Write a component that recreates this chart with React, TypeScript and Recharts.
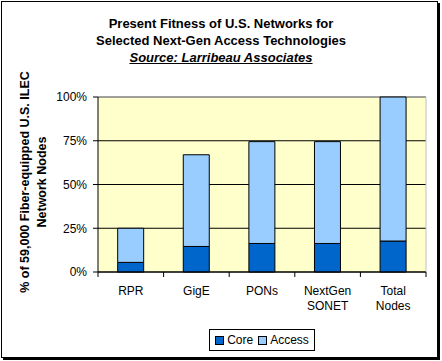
import { BarChart, Bar, XAxis, YAxis, CartesianGrid } from "recharts";

const categories = ["RPR", "GigE", "PONs", "NextGen SONET", "Total Nodes"];
const coreValues = [5.5, 14.6, 16.3, 16.3, 17.7];
const accessValues = [19.5, 52.4, 58.2, 58.2, 82.3];
const yTicks = [0, 25, 50, 75, 100];

const data = categories.map((name, i) => ({ name, core: coreValues[i], access: accessValues[i] }));

const FONT = '"Liberation Sans", Arial, sans-serif';
const BAND = 328 / categories.length;

const CategoryTick = (props: any) => {
  const { x, y, payload, index } = props;
  const lines = String(payload.value).split(" ");
  const left = x - BAND / 2;
  return (
    <g>
      <line x1={left} y1={y - 8} x2={left} y2={y - 3} stroke="#000" />
      {index === categories.length - 1 && (
        <line x1={x + BAND / 2} y1={y - 8} x2={x + BAND / 2} y2={y - 3} stroke="#000" />
      )}
      <text x={x} y={y + 15} textAnchor="middle" fontSize={12} fontFamily={FONT} fill="#000">
        {lines.map((l, i) => (
          <tspan key={i} x={x} dy={i === 0 ? 0 : 15}>{l}</tspan>
        ))}
      </text>
    </g>
  );
};

export default function App() {
  return (
    <div style={{ position: "absolute", left: 0, top: 0, width: 442, height: 361, background: "#fff", fontFamily: FONT }}>
      <div style={{ position: "absolute", left: 1, top: 1, width: 435, height: 355, border: "1px solid #000", boxShadow: "2px 2px 0 #000" }} />
      <div style={{ position: "absolute", left: 0, top: 15, width: 442, textAlign: "center", fontSize: 13, fontWeight: "bold", lineHeight: "17px" }}>
        <div>Present Fitness of U.S. Networks for</div>
        <div>Selected Next-Gen Access Technologies</div>
        <div style={{ fontStyle: "italic", textDecoration: "underline" }}>Source: Larribeau Associates</div>
      </div>
      <div style={{ position: "absolute", left: 34 - 120, top: 182 - 17, width: 240, height: 34, transform: "rotate(-90deg)", textAlign: "center", fontSize: 12.5, fontWeight: "bold", lineHeight: "17px", whiteSpace: "nowrap" }}>
        <div>% of 59,000 Fiber-equipped U.S. ILEC</div>
        <div>Network Nodes</div>
      </div>
      <div style={{ position: "absolute", left: 0, top: 0 }}>
        <BarChart width={442} height={361} data={data} margin={{ top: 97, right: 16, bottom: 49, left: 0 }} barCategoryGap="30%">
          <CartesianGrid vertical={false} stroke="#000" fill="#FFFFCC" fillOpacity={1} />
          <CartesianGrid
            stroke="#C0C0C0"
            horizontalCoordinatesGenerator={({ offset }: any) => [offset.top]}
            verticalCoordinatesGenerator={({ offset }: any) => [offset.left + offset.width]}
          />
          <XAxis dataKey="name" height={40} axisLine={{ stroke: "#000" }} tickLine={false} tick={<CategoryTick />} interval={0} />
          <YAxis
            width={98}
            domain={[0, 100]}
            ticks={yTicks}
            tickFormatter={(v: number) => `${v}%`}
            axisLine={{ stroke: "#000" }}
            tickLine={{ stroke: "#000" }}
            tickSize={5}
            tickMargin={6}
            tick={{ fontSize: 12, fill: "#000", fontFamily: FONT }}
            interval={0}
          />
          <Bar dataKey="core" stackId="a" fill="#0066CC" stroke="#000" strokeWidth={1} isAnimationActive={false} />
          <Bar dataKey="access" stackId="a" fill="#99CCFF" stroke="#000" strokeWidth={1} isAnimationActive={false} />
        </BarChart>
      </div>
      <div style={{ position: "absolute", left: 209, top: 329, width: 104, height: 20, border: "1px solid #000", display: "flex", alignItems: "center", justifyContent: "center", fontSize: 12, gap: 3 }}>
        <span style={{ display: "inline-block", width: 7, height: 7, background: "#0066CC", border: "1px solid #000" }} />
        <span>Core</span>
        <span style={{ display: "inline-block", width: 7, height: 7, background: "#99CCFF", border: "1px solid #000", marginLeft: 2 }} />
        <span>Access</span>
      </div>
    </div>
  );
}
